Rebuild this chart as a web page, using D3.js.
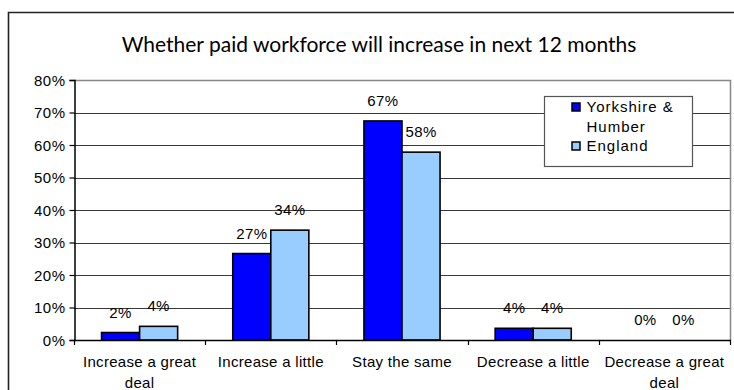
<!DOCTYPE html>
<html>
<head>
<meta charset="utf-8">
<script src="https://cdn.jsdelivr.net/npm/d3@7"></script>
<style>
  html, body { margin: 0; padding: 0; background: #fff; }
  svg { display: block; }
  text { font-family: "Liberation Sans", Arial, sans-serif; fill: #000; }
</style>
</head>
<body>
<svg id="chart" width="734" height="390"></svg>
<script>
// Survey answers (x categories)
const categories = [
  ["Increase a great", "deal"],
  ["Increase a little"],
  ["Stay the same"],
  ["Decrease a little"],
  ["Decrease a great", "deal"]
];
const categoryKeys = categories.map(c => c.join(" "));

// Share of respondents (%) per region
const yorkshire = [2.3, 26.6, 67.4, 3.6, 0];
const england   = [4.2, 33.8, 57.8, 3.6, 0];

const seriesNames  = ["Yorkshire & Humber", "England"];
const seriesColors = ["#0000FF", "#99CCFF"];

const yTicks = [0, 10, 20, 30, 40, 50, 60, 70, 80];

const titleText = "Whether paid workforce will increase in next 12 months";

const svg = d3.select("#chart");

// Outer chart frame
svg.append("path")
  .attr("d", "M8.5,390 V12.5 H734")
  .attr("fill", "none")
  .attr("stroke", "#222")
  .attr("stroke-width", 1.6);

// Title
svg.append("text")
  .attr("x", 379)
  .attr("y", 52)
  .attr("text-anchor", "middle")
  .style("font-family", "Lato, 'Open Sans', sans-serif")
  .style("font-size", "21px")
  .text(titleText);

const plot = { left: 74, right: 730, top: 80, bottom: 340 };

const x = d3.scaleBand()
  .domain(categoryKeys)
  .range([plot.left, plot.right])
  .paddingInner(0)
  .paddingOuter(0);

const y = d3.scaleLinear()
  .domain([0, 80])
  .range([plot.bottom, plot.top]);

const groupWidth = x.bandwidth() * 0.58;
const xs = d3.scaleBand()
  .domain(seriesNames)
  .range([0, groupWidth]);

// Gridlines
svg.append("g")
  .selectAll("line")
  .data(yTicks.filter(t => t > 0 && t < 80))
  .join("line")
  .attr("x1", plot.left).attr("x2", plot.right)
  .attr("y1", d => Math.round(y(d)) + 0.5).attr("y2", d => Math.round(y(d)) + 0.5)
  .attr("stroke", "#3a3a3a")
  .attr("stroke-width", 1);

// Plot frame (top and right)
svg.append("path")
  .attr("d", `M${plot.left},${plot.top + 0.5} H${plot.right + 0.5} V${plot.bottom}`)
  .attr("fill", "none")
  .attr("stroke", "#888")
  .attr("stroke-width", 1.5);

// Bars
const series = [yorkshire, england];
const barsG = svg.append("g");
series.forEach((vals, si) => {
  barsG.selectAll(null)
    .data(vals.map((v, i) => ({ v, cat: categoryKeys[i] })))
    .join("rect")
    .attr("x", d => x(d.cat) + (x.bandwidth() - groupWidth) / 2 + xs(seriesNames[si]))
    .attr("y", d => y(d.v))
    .attr("width", xs.bandwidth())
    .attr("height", d => y(0) - y(d.v))
    .attr("fill", seriesColors[si])
    .attr("stroke", "#000")
    .attr("stroke-width", d => d.v > 0 ? 1.6 : 0);
});

// Value labels
const fmt = v => Math.round(v) + "%";
series.forEach((vals, si) => {
  svg.append("g").selectAll("text")
    .data(vals.map((v, i) => ({ v, cat: categoryKeys[i] })))
    .join("text")
    .attr("x", d => x(d.cat) + (x.bandwidth() - groupWidth) / 2 + xs(seriesNames[si]) + xs.bandwidth() / 2)
    .attr("y", d => y(d.v) - 15)
    .attr("text-anchor", "middle")
    .style("font-size", "15px")
    .style("letter-spacing", "0.4px")
    .text(d => fmt(d.v));
});

// Y axis
const yAxis = svg.append("g")
  .attr("transform", `translate(${plot.left + 0.5},0)`)
  .call(d3.axisLeft(y).tickValues(yTicks).tickSize(5).tickPadding(4).tickFormat(d => d + "%"));
yAxis.select(".domain").attr("stroke", "#000").attr("stroke-width", 1.5);
yAxis.selectAll(".tick line").attr("stroke", "#000").attr("stroke-width", 1.2);
yAxis.selectAll(".tick text")
  .attr("font-family", null)
  .attr("font-size", null)
  .style("font-size", "15px")
  .style("letter-spacing", "0.5px")
  .attr("dy", "0.35em");

// X axis line and boundary ticks
const xAxisG = svg.append("g");
xAxisG.append("line")
  .attr("x1", plot.left).attr("x2", plot.right + 1)
  .attr("y1", plot.bottom + 0.5).attr("y2", plot.bottom + 0.5)
  .attr("stroke", "#000").attr("stroke-width", 1.5);
const boundaries = categoryKeys.map(k => x(k)).concat([x.range()[1]]);
xAxisG.selectAll("line.tick")
  .data(boundaries)
  .join("line")
  .attr("class", "tick")
  .attr("x1", d => Math.round(d) + 0.5).attr("x2", d => Math.round(d) + 0.5)
  .attr("y1", plot.bottom).attr("y2", plot.bottom + 5)
  .attr("stroke", "#000").attr("stroke-width", 1.2);

// Category labels (two lines where wrapped)
const catLabels = xAxisG.selectAll("text.cat")
  .data(categories)
  .join("text")
  .attr("class", "cat")
  .attr("text-anchor", "middle")
  .style("font-size", "15px")
  .style("letter-spacing", "0.3px")
  .attr("transform", (d, i) => `translate(${x(categoryKeys[i]) + x.bandwidth() / 2},367)`);
catLabels.selectAll("tspan")
  .data(d => d)
  .join("tspan")
  .attr("x", 0)
  .attr("y", (d, i) => i * 21)
  .text(d => d);

// Legend
const legend = svg.append("g").attr("transform", "translate(544,96)");
legend.append("rect")
  .attr("x", 0.5).attr("y", 0.5)
  .attr("width", 148).attr("height", 70)
  .attr("fill", "#fff")
  .attr("stroke", "#555")
  .attr("stroke-width", 1.2);
const legendLines = [
  { swatch: 0, lines: ["Yorkshire &", "Humber"] },
  { swatch: 1, lines: ["England"] }
];
let lineY = 16;
legendLines.forEach(item => {
  legend.append("rect")
    .attr("x", 28).attr("y", lineY - 9)
    .attr("width", 8).attr("height", 8)
    .attr("fill", seriesColors[item.swatch])
    .attr("stroke", "#000")
    .attr("stroke-width", 1.5);
  item.lines.forEach(t => {
    legend.append("text")
      .attr("x", 42.5)
      .attr("y", lineY)
      .style("font-size", "15px")
      .style("letter-spacing", "1px")
      .text(t);
    lineY += 19.5;
  });
});
</script>
</body>
</html>
